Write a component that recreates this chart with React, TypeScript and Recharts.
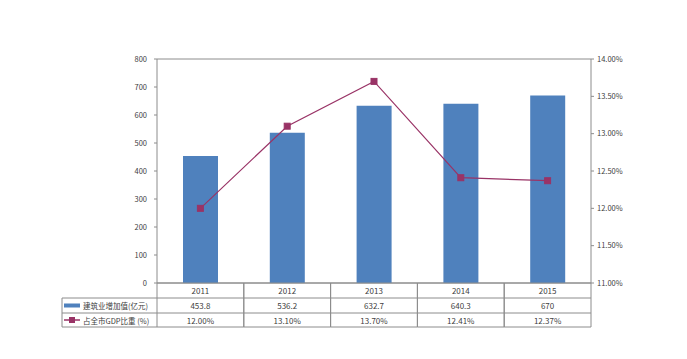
import React from 'react';
import { ComposedChart, Bar, Line, XAxis, YAxis, CartesianGrid } from 'recharts';

const categories = ['2011', '2012', '2013', '2014', '2015'];
const valueLabels = ['453.8', '536.2', '632.7', '640.3', '670'];
const values = [453.8, 536.2, 632.7, 640.3, 670];
const shares = [12.0, 13.1, 13.7, 12.41, 12.37];
const shareLabels = ['12.00%', '13.10%', '13.70%', '12.41%', '12.37%'];
const leftTicks = [0, 100, 200, 300, 400, 500, 600, 700, 800];
const rightTicks = [11, 11.5, 12, 12.5, 13, 13.5, 14];
const seriesNames = ['建筑业增加值(亿元)', '占全市GDP比重 (%)'];

const data = categories.map((c, i) => ({ year: c, value: values[i], share: shares[i] }));

const W = 687;
const H = 359;
const PLOT_L = 157;
const PLOT_R = 591;
const PLOT_T = 59;
const PLOT_B = 283;
const PLOT_W = PLOT_R - PLOT_L;
const ROW1 = 298;
const ROW2 = 313;
const ROW3 = 327;
const TABLE_L = 62;
const GRID = '#8c8c8c';
const TEXT = '#404040';
const BAR = '#4F81BD';
const LINE = '#993366';
const FONT = '"Noto Sans CJK SC", "Liberation Sans", sans-serif';

const TableTick = (props: any) => {
  const { x, index } = props;
  const colW = PLOT_W / categories.length;
  const left = x - colW / 2;
  const right = x + colW / 2;
  return (
    <g>
      <line x1={right} y1={PLOT_B} x2={right} y2={ROW3} stroke={GRID} strokeWidth={1} />
      <line x1={left} y1={PLOT_B} x2={left} y2={ROW3} stroke={GRID} strokeWidth={1} />
      <line x1={left} y1={ROW1} x2={right} y2={ROW1} stroke={GRID} strokeWidth={1} />
      <line x1={left} y1={ROW2} x2={right} y2={ROW2} stroke={GRID} strokeWidth={1} />
      <line x1={left} y1={ROW3} x2={right} y2={ROW3} stroke={GRID} strokeWidth={1} />
      <text x={x} y={(PLOT_B + ROW1) / 2} textAnchor="middle" dominantBaseline="central" fontSize={8} fill={TEXT} fontFamily={FONT}>
        {categories[index]}
      </text>
      <text x={x} y={(ROW1 + ROW2) / 2} textAnchor="middle" dominantBaseline="central" fontSize={8} fill={TEXT} fontFamily={FONT}>
        {valueLabels[index]}
      </text>
      <text x={x} y={(ROW2 + ROW3) / 2} textAnchor="middle" dominantBaseline="central" fontSize={8} fill={TEXT} fontFamily={FONT}>
        {shareLabels[index]}
      </text>
      {index === 0 && (
        <g>
          <line x1={TABLE_L} y1={ROW1} x2={left} y2={ROW1} stroke={GRID} strokeWidth={1} />
          <line x1={TABLE_L} y1={ROW2} x2={left} y2={ROW2} stroke={GRID} strokeWidth={1} />
          <line x1={TABLE_L} y1={ROW3} x2={left} y2={ROW3} stroke={GRID} strokeWidth={1} />
          <line x1={TABLE_L} y1={ROW1} x2={TABLE_L} y2={ROW3} stroke={GRID} strokeWidth={1} />
          <rect x={TABLE_L + 2} y={(ROW1 + ROW2) / 2 - 2} width={16} height={4} fill={BAR} />
          <text x={TABLE_L + 21} y={(ROW1 + ROW2) / 2} dominantBaseline="central" fontSize={7.5} fill={TEXT} fontFamily={FONT}>
            {seriesNames[0]}
          </text>
          <line x1={TABLE_L + 2} y1={(ROW2 + ROW3) / 2} x2={TABLE_L + 18} y2={(ROW2 + ROW3) / 2} stroke={LINE} strokeWidth={1.5} />
          <rect x={TABLE_L + 7} y={(ROW2 + ROW3) / 2 - 3} width={6} height={6} fill={LINE} />
          <text x={TABLE_L + 21} y={(ROW2 + ROW3) / 2} dominantBaseline="central" fontSize={7.5} fill={TEXT} fontFamily={FONT}>
            {seriesNames[1]}
          </text>
        </g>
      )}
    </g>
  );
};

const SquareDot = (props: any) => {
  const { cx, cy } = props;
  if (cx == null || cy == null) return null;
  return <rect x={cx - 3} y={cy - 3} width={6} height={6} fill={LINE} stroke={LINE} strokeWidth={1} />;
};

export default function App() {
  return (
    <div style={{ position: 'absolute', left: 0, top: 0, width: W, height: H, background: '#fff' }}>
      <ComposedChart
        width={W}
        height={H}
        data={data}
        margin={{ top: PLOT_T, right: 0, bottom: H - ROW3 - 1, left: 0 }}
      >
        <CartesianGrid vertical={false} horizontal stroke={GRID} strokeWidth={1} />
        <XAxis
          dataKey="year"
          xAxisId="x"
          height={ROW3 - PLOT_B + 1}
          tickLine={false}
          tickSize={0}
          tickMargin={0}
          axisLine={{ stroke: GRID }}
          interval={0}
          tick={<TableTick />}
        />
        <YAxis
          yAxisId="left"
          width={PLOT_L}
          domain={[0, 800]}
          ticks={leftTicks}
          interval={0}
          tickSize={3}
          tickMargin={7}
          axisLine={{ stroke: GRID }}
          tickLine={{ stroke: GRID }}
          tick={{ fontSize: 7.5, fill: TEXT, fontFamily: FONT }}
        />
        <YAxis
          yAxisId="right"
          orientation="right"
          width={W - PLOT_R}
          domain={[11, 14]}
          ticks={rightTicks}
          interval={0}
          tickSize={3}
          tickMargin={3}
          axisLine={{ stroke: GRID }}
          tickLine={{ stroke: GRID }}
          tickFormatter={(v: number) => v.toFixed(2) + '%'}
          tick={{ fontSize: 7.5, fill: TEXT, fontFamily: FONT, textAnchor: 'start' }}
        />
        <Bar xAxisId="x" yAxisId="left" dataKey="value" fill={BAR} barSize={35} isAnimationActive={false} />
        <Line
          xAxisId="x"
          yAxisId="right"
          dataKey="share"
          stroke={LINE}
          strokeWidth={1.2}
          dot={<SquareDot />}
          activeDot={false}
          isAnimationActive={false}
        />
      </ComposedChart>
    </div>
  );
}
